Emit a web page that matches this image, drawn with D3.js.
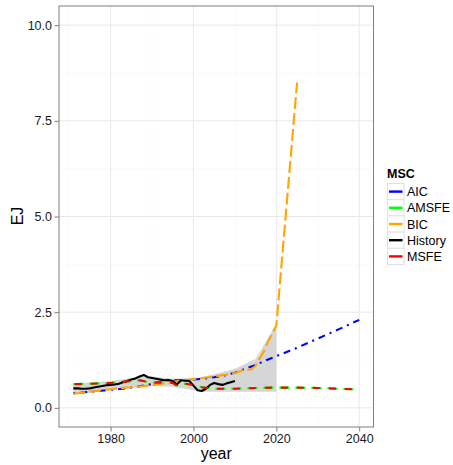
<!DOCTYPE html>
<html><head><meta charset="utf-8">
<script src="https://cdn.jsdelivr.net/npm/d3@7"></script>
<style>body{margin:0;background:#fff;} svg{display:block;font-family:"Liberation Sans",Arial,sans-serif;}</style>
</head><body>
<svg id="c" width="453" height="465"></svg>
<script>
// ---- data ----
const historyYears = [1971,1972,1973,1974,1975,1976,1977,1978,1979,1980,1981,1982,1983,1984,1985,1986,1987,1988,1989,1990,1991,1992,1993,1994,1995,1996,1997,1998,1999,2000,2001,2002,2003,2004,2005,2006,2007,2008,2009,2010];
const historyValues = [0.51,0.51,0.50,0.50,0.51,0.53,0.55,0.57,0.59,0.60,0.61,0.63,0.67,0.70,0.74,0.77,0.82,0.86,0.80,0.78,0.76,0.74,0.72,0.73,0.70,0.61,0.72,0.71,0.70,0.58,0.46,0.44,0.50,0.60,0.65,0.62,0.60,0.64,0.67,0.70];

const aicYears = [1971,1975,1980,1983,1985,1989,1993,1995,1998,2000,2003,2005,2008,2010,2013,2015,2017,2020,2025,2030,2035,2040];
const aicValues = [0.38,0.42,0.47,0.50,0.53,0.60,0.72,0.72,0.72,0.74,0.77,0.80,0.86,0.92,1.04,1.12,1.22,1.35,1.57,1.81,2.05,2.30];

const bicYears = [1971,1975,1980,1985,1990,1995,2000,2005,2010,2012,2014,2015,2017,2018,2020,2025];
const bicValues = [0.37,0.42,0.49,0.54,0.59,0.68,0.75,0.82,0.91,0.98,1.01,1.10,1.48,1.73,2.15,8.50];

const msfeYears = [1971,1975,1980,1985,1987,1990,1993,1995,1996,1998,2000,2002,2005,2010,2015,2020,2025,2030,2035,2040];
const msfeValues = [0.62,0.63,0.65,0.70,0.72,0.66,0.66,0.65,0.58,0.63,0.60,0.54,0.50,0.50,0.52,0.53,0.53,0.52,0.50,0.48];
const amsfeValues = [0.62,0.63,0.65,0.70,0.72,0.66,0.66,0.65,0.58,0.63,0.60,0.54,0.50,0.50,0.52,0.53,0.53,0.52,0.50,0.48];

const bandYears = [1971,1975,1980,1985,1988,1990,1995,2000,2002,2005,2010,2015,2020];
const bandLow  = [0.36,0.40,0.47,0.52,0.56,0.57,0.55,0.46,0.42,0.42,0.42,0.42,0.42];
const bandHigh = [0.64,0.66,0.70,0.78,0.87,0.82,0.76,0.78,0.80,0.88,1.02,1.28,2.20];

const xTicks = [1980,2000,2020,2040];
const xMinor = [1970,1990,2010,2030];
const yTicks = [0,2.5,5,7.5,10];
const yMinor = [1.25,3.75,6.25,8.75];
const legendLabels = ["AIC","AMSFE","BIC","History","MSFE"];
const legendColors = ["#0000ff","#00ff00","#ffa500","#000000","#ff0000"];

// ---- layout ----
const svg = d3.select("#c");
const L = 59, T = 6, R = 373.5, B = 427;
const x = d3.scaleLinear().domain([1967.55, 2043.45]).range([L, R]);
const y = d3.scaleLinear().domain([-0.5, 10.5]).range([B, T]);

svg.append("rect").attr("x",0).attr("y",0).attr("width",453).attr("height",465).attr("fill","#fff");
const g = svg.append("g");
// minor grid
g.selectAll(".xm").data(xMinor).enter().append("line")
  .attr("x1",d=>x(d)).attr("x2",d=>x(d)).attr("y1",T).attr("y2",B)
  .attr("stroke","#f7f7f7").attr("stroke-width",0.6);
g.selectAll(".ym").data(yMinor).enter().append("line")
  .attr("y1",d=>y(d)).attr("y2",d=>y(d)).attr("x1",L).attr("x2",R)
  .attr("stroke","#f7f7f7").attr("stroke-width",0.6);
// major grid
g.selectAll(".xM").data(xTicks).enter().append("line")
  .attr("x1",d=>x(d)).attr("x2",d=>x(d)).attr("y1",T).attr("y2",B)
  .attr("stroke","#e8e8e8").attr("stroke-width",1);
g.selectAll(".yM").data(yTicks).enter().append("line")
  .attr("y1",d=>y(d)).attr("y2",d=>y(d)).attr("x1",L).attr("x2",R)
  .attr("stroke","#e8e8e8").attr("stroke-width",1);

// ribbon
const band = bandYears.map((yr,i)=>({yr, lo:bandLow[i], hi:bandHigh[i]}));
g.append("path").datum(band)
  .attr("d", d3.area().x(d=>x(d.yr)).y0(d=>y(d.lo)).y1(d=>y(d.hi)))
  .attr("fill","#d6d6d6");

const line = d3.line().x(d=>x(d[0])).y(d=>y(d[1]));
const pts = (ys, vs) => ys.map((yr,i)=>[yr, vs[i]]);

g.append("path").datum(pts(aicYears, aicValues)).attr("d", line)
  .attr("fill","none").attr("stroke","#0000ff").attr("stroke-width",2.1)
  .attr("stroke-dasharray","2,5,7,5");
g.append("path").datum(pts(msfeYears, amsfeValues)).attr("d", line)
  .attr("fill","none").attr("stroke","#00ff00").attr("stroke-width",2.1)
  .attr("stroke-dasharray","10,6");
g.append("path").datum(pts(bicYears, bicValues)).attr("d", line)
  .attr("fill","none").attr("stroke","#ffa500").attr("stroke-width",2.1)
  .attr("stroke-dasharray","12,4");
g.append("path").datum(pts(historyYears, historyValues)).attr("d", line)
  .attr("fill","none").attr("stroke","#000").attr("stroke-width",2.1)
  .attr("stroke-linejoin","round");
g.append("path").datum(pts(msfeYears, msfeValues)).attr("d", line)
  .attr("fill","none").attr("stroke","#ff0000").attr("stroke-width",2.1)
  .attr("stroke-dasharray","7,9").attr("stroke-dashoffset",-1.5);

// panel border
svg.append("rect").attr("x",L).attr("y",T).attr("width",R-L).attr("height",B-T)
  .attr("fill","none").attr("stroke","#7f7f7f").attr("stroke-width",1);

// axes
const xAxis = svg.append("g").attr("transform",`translate(0,${B})`)
  .call(d3.axisBottom(x).tickValues(xTicks).tickFormat(d3.format("d")).tickSize(4.5).tickPadding(3));
const yAxis = svg.append("g").attr("transform",`translate(${L},0)`)
  .call(d3.axisLeft(y).tickValues(yTicks).tickFormat(d3.format(".1f")).tickSize(4.5).tickPadding(2.5));
[xAxis, yAxis].forEach(a=>{
  a.select(".domain").remove();
  a.selectAll(".tick line").attr("stroke","#7f7f7f");
  a.selectAll(".tick text").attr("fill","#1a1a1a").attr("font-size","12.5px")
    .attr("font-family","Liberation Sans, Arial, sans-serif");
});

svg.append("text").attr("x",(L+R)/2).attr("y",459).attr("text-anchor","middle")
  .attr("font-size","16px").attr("fill","#000").text("year");
svg.append("text").attr("transform","translate(23,216) rotate(-90)").attr("text-anchor","middle")
  .attr("font-size","16px").attr("fill","#000").text("EJ");

// legend
const lg = svg.append("g");
lg.append("text").attr("x",387).attr("y",178).attr("font-size","12.5px").attr("font-weight","bold").text("MSC");
const rowH = 16.2, top0 = 183.5;
legendLabels.forEach((lab,i)=>{
  const yy = top0 + i*rowH;
  lg.append("rect").attr("x",387.5).attr("y",yy).attr("width",16.5).attr("height",rowH)
    .attr("fill","#fff").attr("stroke","#e0e0e0").attr("stroke-width",1);
  lg.append("line").attr("x1",389).attr("x2",402.5).attr("y1",yy+rowH/2).attr("y2",yy+rowH/2)
    .attr("stroke",legendColors[i]).attr("stroke-width",2.4);
  lg.append("text").attr("x",407).attr("y",yy+rowH/2+4.5).attr("font-size","12.5px").attr("fill","#000").text(lab);
});
</script>
</body></html>
